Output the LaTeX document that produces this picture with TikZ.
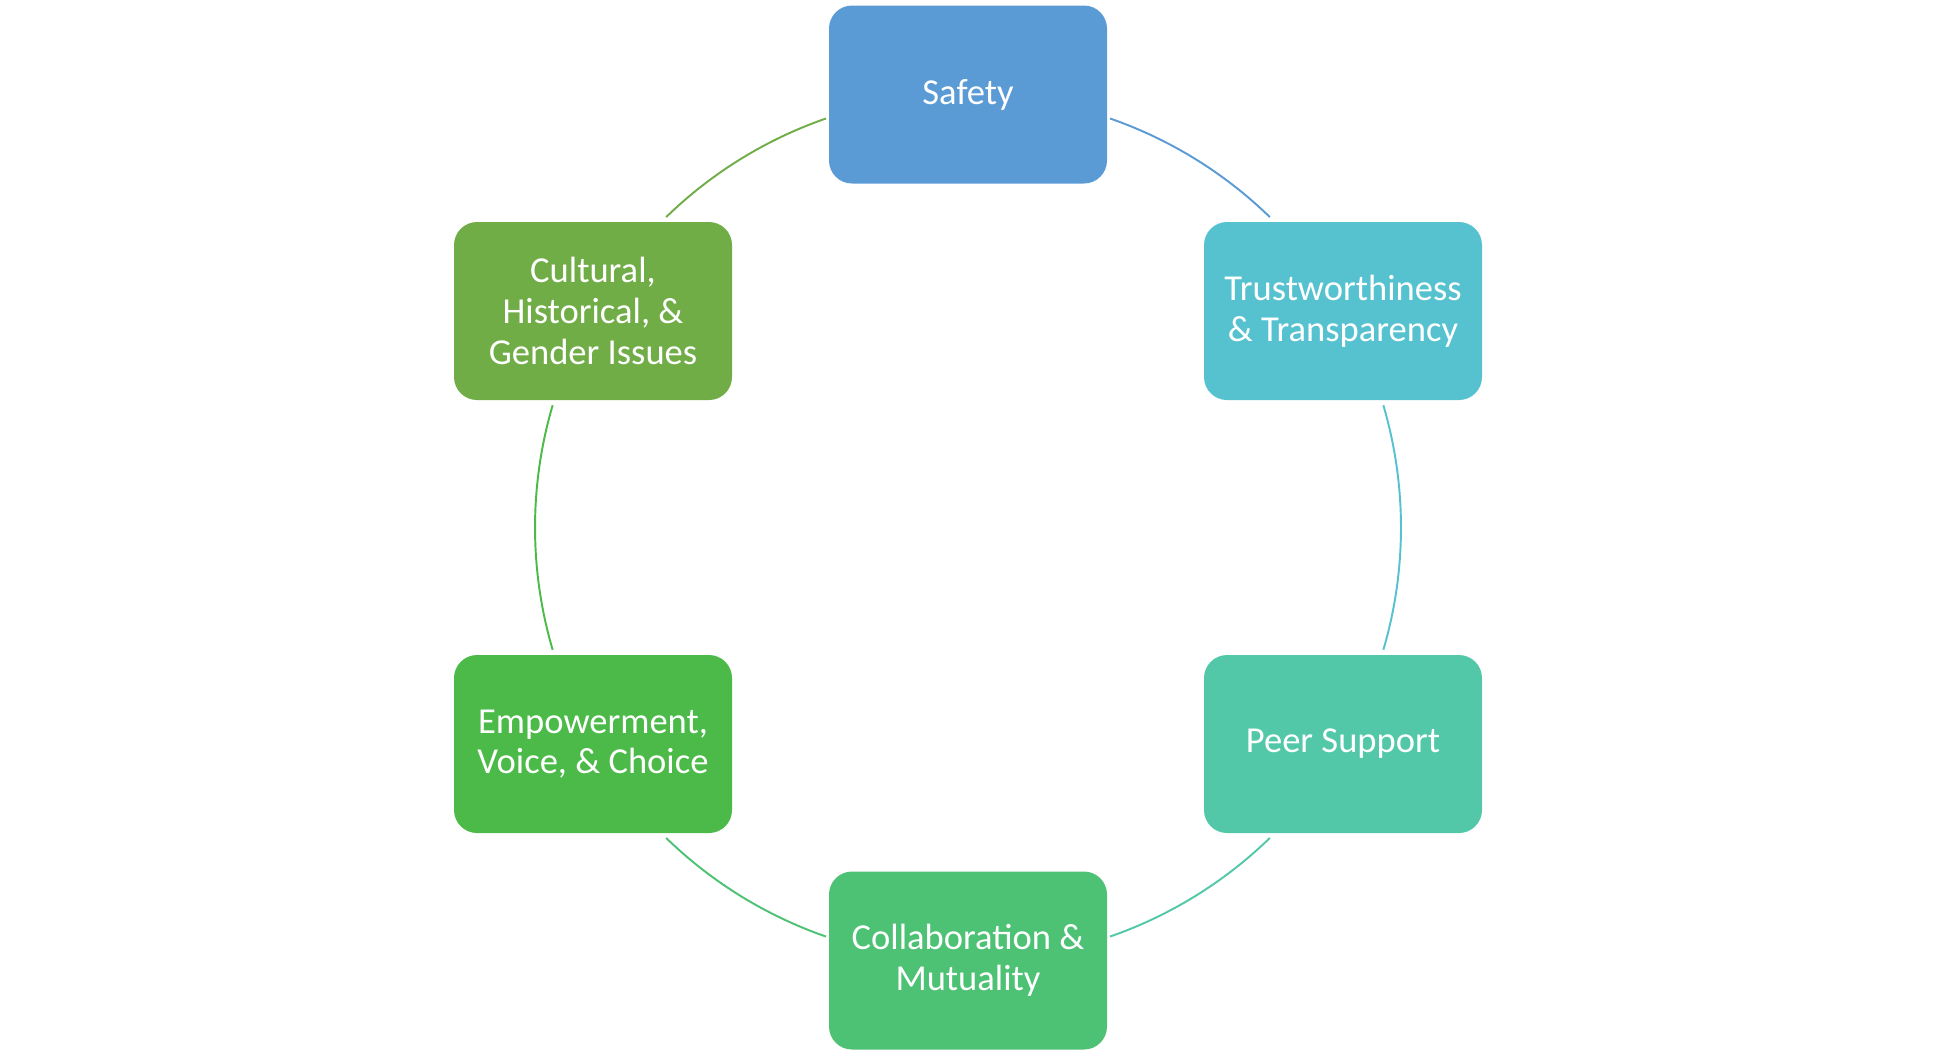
\documentclass[tikz,border=0pt]{standalone}
\usepackage{fontspec}
\setmainfont{Carlito}
\usetikzlibrary{calc}
\definecolor{cSafety}{HTML}{5B9BD5}
\definecolor{cTrust}{HTML}{56C2D0}
\definecolor{cPeer}{HTML}{52C8A8}
\definecolor{cCollab}{HTML}{4DC174}
\definecolor{cEmp}{HTML}{4BBA48}
\definecolor{cCult}{HTML}{70AD47}
\tikzset{
  box/.style={rounded corners=0.23cm, minimum width=2.78cm, minimum height=1.78cm,
    inner sep=0pt, text=white, align=center, font=\fontsize{10.4}{11.6}\selectfont},
  ring/.style={line width=0.55pt}
}
\begin{document}
\begin{tikzpicture}
\useasboundingbox (0,0) rectangle (19.34,-10.55);
\coordinate (c) at (9.68,-5.275);
\def\R{4.33}
\node[box, fill=cSafety] (safety) at ($(c)+(90:\R)$) {Safety};
\node[box, fill=cTrust] (trust) at ($(c)+(30:\R)$) {Trustworthiness\\\& Transparency};
\node[box, fill=cPeer] (peer) at ($(c)+(-30:\R)$) {Peer Support};
\node[box, fill=cCollab] (collab) at ($(c)+(-90:\R)$) {Collaboration \&\\Mutuality};
\node[box, fill=cEmp] (emp) at ($(c)+(-150:\R)$) {Empowerment,\\Voice, \& Choice};
\node[box, fill=cCult] (cult) at ($(c)+(150:\R)$) {Cultural,\\Historical, \&\\Gender Issues};
\draw[ring, cSafety] ($(c)+(70.85:\R)$) arc[start angle=70.85, end angle=45.8, radius=\R];
\draw[ring, cTrust] ($(c)+(16.4:\R)$) arc[start angle=16.4, end angle=-16.4, radius=\R];
\draw[ring, cPeer] ($(c)+(-45.8:\R)$) arc[start angle=-45.8, end angle=-70.85, radius=\R];
\draw[ring, cCollab] ($(c)+(-109.15:\R)$) arc[start angle=-109.15, end angle=-134.2, radius=\R];
\draw[ring, cEmp] ($(c)+(-163.6:\R)$) arc[start angle=-163.6, end angle=-196.4, radius=\R];
\draw[ring, cCult] ($(c)+(134.2:\R)$) arc[start angle=134.2, end angle=109.15, radius=\R];
\end{tikzpicture}
\end{document}
